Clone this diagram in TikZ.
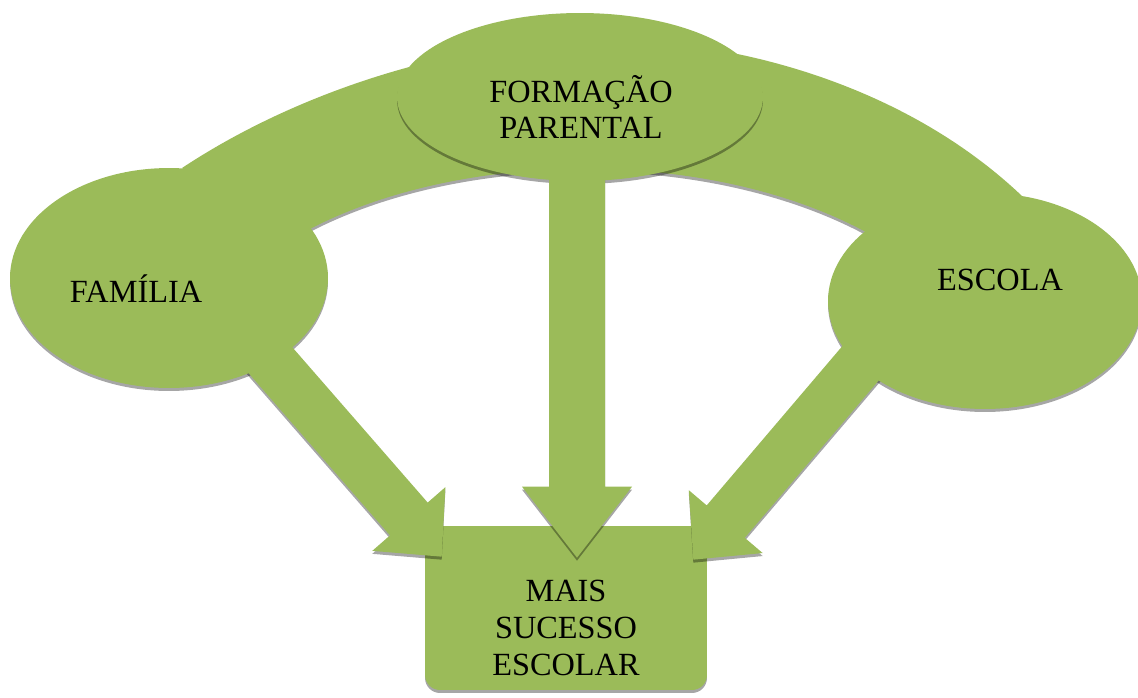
\documentclass[tikz,border=0pt]{standalone}
\usepackage{fontspec}
\setmainfont{Liberation Serif}
\usetikzlibrary{shapes.geometric, calc, shadows}

\definecolor{leafgreen}{HTML}{9BBB59}

\pgfdeclarelayer{cardlayer}
\pgfdeclarelayer{stemlayer}
\pgfdeclarelayer{toplayer}
\pgfsetlayers{cardlayer,main,stemlayer,toplayer}

\tikzset{
  blob/.style={ellipse, fill=leafgreen, inner sep=0pt},
  card/.style={rectangle, rounded corners=0.3cm, fill=leafgreen, minimum width=5.64cm, minimum height=3.28cm},
  softshadow/.style={drop shadow={shadow xshift=0pt, shadow yshift=-0.06cm, fill=black, opacity=.35}},
  castshade/.style={fill=black, fill opacity=.35, transform canvas={yshift=-0.06cm}},
  wording/.style={font=\fontsize{18.4}{21}\selectfont, align=center}
}

% block arrow from #2 to the tip #3: half shaft #4, half head #5, head length #6
\newcommand{\blockarrow}[6][fill=leafgreen]{%
  \path ($(#3)!#6!(#2)$) coordinate (ba);
  \path[#1] ($(#2)!#4!90:(#3)$) -- ($(ba)!#4!-90:(#2)$) -- ($(ba)!#5!-90:(#2)$) -- (#3)
    -- ($(ba)!#5!90:(#2)$) -- ($(ba)!#4!90:(#2)$) -- ($(#2)!#4!-90:(#3)$) -- cycle;}

\begin{document}
\begin{tikzpicture}[x=0.02cm, y=-0.02cm]
  \useasboundingbox (0,0) rectangle (1138,697);

  % result box
  \begin{pgfonlayer}{cardlayer}
    \node[card, softshadow] (box) at (566,608) {};
  \end{pgfonlayer}

  % side ellipses
  \node[blob, softshadow, minimum width=6.36cm, minimum height=4.4cm] (fam) at (169,278) {};
  \node[blob, softshadow, minimum width=6.28cm, minimum height=4.32cm] (esc) at (985,301) {};

  % band joining the side ellipses
  \fill[leafgreen] (182,168) .. controls (300,90) and (450,45) .. (580,40)
    .. controls (720,35) and (900,80) .. (1022,196) -- (880,240)
    .. controls (720,145) and (450,145) .. (290,240) -- cycle;

  % ends of the side arrows
  \coordinate (famout) at ([shift={(76,53)}]fam.center);
  \coordinate (famin) at ([shift={(17,31)}]box.north west);
  \coordinate (escout) at ([shift={(-97,30)}]esc.center);
  \coordinate (escin) at ([shift={(-14,34)}]box.north east);

  % side arrows
  \blockarrow{famout}{famin}{0.5cm}{0.97cm}{1cm}
  \blockarrow{escout}{escin}{0.5cm}{0.97cm}{1cm}

  % shadows of band and side arrows
  \begin{pgfonlayer}{cardlayer}
    \fill[castshade] (182,168) .. controls (300,90) and (450,45) .. (580,40)
      .. controls (720,35) and (900,80) .. (1022,196) -- (880,240)
      .. controls (720,145) and (450,145) .. (290,240) -- cycle;
    \blockarrow[castshade]{famout}{famin}{0.5cm}{0.97cm}{1cm}
    \blockarrow[castshade]{escout}{escin}{0.5cm}{0.97cm}{1cm}
  \end{pgfonlayer}

  % top ellipse
  \begin{pgfonlayer}{toplayer}
    \node[blob, minimum width=7.32cm, minimum height=3.36cm] (form) at (580,97) {};
  \end{pgfonlayer}

  % middle arrow
  \coordinate (formout) at ([shift={(-3,50)}]form.center);
  \coordinate (formin) at ([shift={(11,32)}]box.north);
  \begin{pgfonlayer}{stemlayer}
    \fill[castshade] (form.center) ellipse [x radius=3.66cm, y radius=1.68cm];
    \blockarrow[castshade]{formout}{formin}{0.56cm}{1.1cm}{1.42cm}
    \blockarrow{formout}{formin}{0.56cm}{1.1cm}{1.42cm}
  \end{pgfonlayer}

  % texts
  \begin{pgfonlayer}{toplayer}
    \node[wording, anchor=base] (famtxt) at (136,302) {FAMÍLIA};
    \node[wording, anchor=base] (esctxt) at (1000,290) {ESCOLA};
    \node[wording] (formtxt) at (581,107) {FORMAÇÃO\\PARENTAL};
    \node[wording] (boxtxt) at (566,628) {MAIS\\SUCESSO\\ESCOLAR};
  \end{pgfonlayer}
\end{tikzpicture}
\end{document}
